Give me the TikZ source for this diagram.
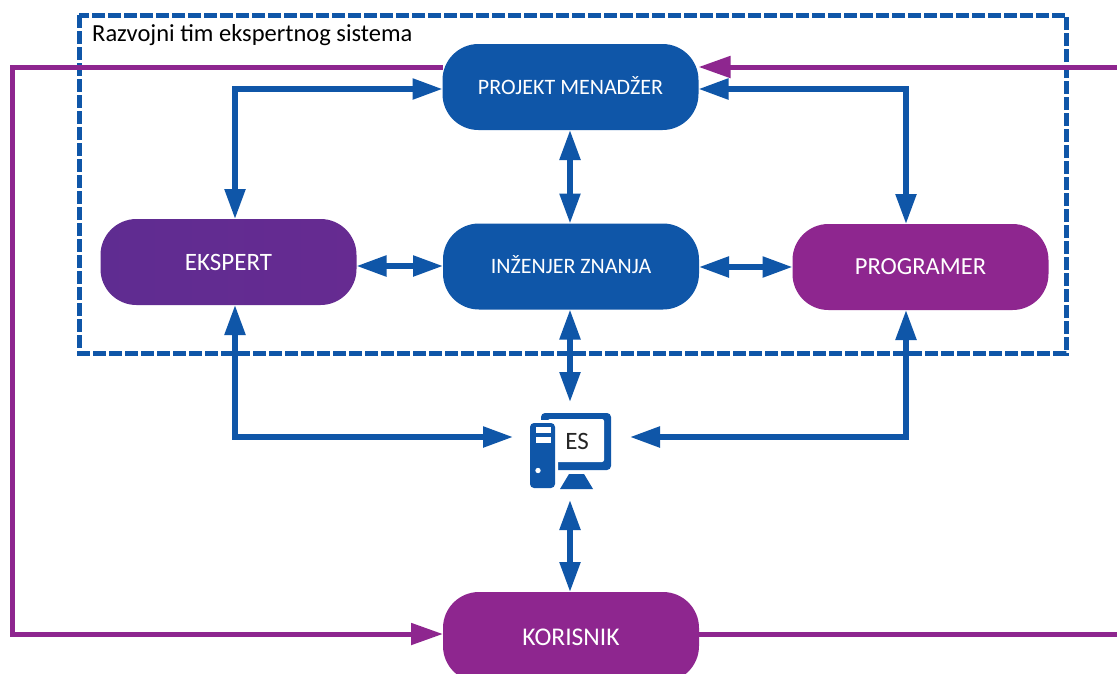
\documentclass[tikz,border=0pt]{standalone}
\usepackage{fontspec}
\setmainfont{Carlito}
\usetikzlibrary{arrows.meta,calc}
\definecolor{bl}{HTML}{0F56A8}
\definecolor{pu}{HTML}{8E268F}
\definecolor{vi}{HTML}{5F2C91}
\newcommand{\fsz}[1]{\fontsize{#1}{#1}\selectfont}
\tikzset{
 box/.style={rounded corners=36pt,minimum width=256pt,minimum height=86pt,inner sep=0pt,outer sep=0pt,text=white},
 bi/.style={draw=bl,line width=5.4pt,{Triangle[length=30pt,width=20pt]}-{Triangle[length=30pt,width=20pt]}},
 pa/.style={draw=pu,line width=5pt},
 pt/.style={pa,-{Triangle[length=32pt,width=21pt]}}
}
\begin{document}
\begin{tikzpicture}[x=1pt,y=-1pt]
\useasboundingbox (0,0) rectangle (1117,673);
\fill[white] (0,0) rectangle (1117,673);
% free ends and routing points
\coordinate (xl) at (235,0);
\coordinate (xr) at (906,0);
\coordinate (r1) at (1117,67);
\coordinate (r2) at (1117,634);
\coordinate (l1) at (12,67);
% dashed frame
\draw[bl,line width=5pt,dash pattern=on 13pt off 3pt] (79,15) rectangle (1066,353);
\node[anchor=west,inner sep=0pt,font=\fsz{24.5}] (ttl) at (92,35) {Razvojni tim ekspertnog sistema};
% boxes
\node[box,fill=bl,font=\fsz{22}] (pm) at (570.5,87) {\raisebox{4pt}{PROJEKT MENADŽER}};
\node[box,left color=vi,right color=vi!85!pu,font=\fsz{25}] (ek) at (228.5,262) {EKSPERT};
\node[box,fill=bl,font=\fsz{22}] (iz) at (571,266.5) {\raisebox{5pt}{INŽENJER ZNANJA}};
\node[box,fill=pu,font=\fsz{24.5}] (pr) at (920.5,267) {PROGRAMER};
\node[box,fill=pu,minimum height=90pt,font=\fsz{25.5}] (ko) at (571,637) {KORISNIK};
% ES icon
\node[inner sep=0pt,outer sep=0pt,minimum width=117pt,minimum height=98pt] (es) at (571.5,451) {};
\coordinate (ey) at (0,437);
\fill[bl,rounded corners=4pt] (541,413) rectangle (611,470);
\fill[white,rounded corners=2pt] (548,419) rectangle (604,462);
\fill[bl] (560,489) -- (569,474) -- (584,474) -- (593,489) -- cycle;
\fill[white,rounded corners=4pt] (527,420) rectangle (558,490);
\fill[bl,rounded corners=4pt] (530,423) rectangle (555,488);
\fill[white] (535.5,427) rectangle (551,433);
\fill[white] (535.5,437) rectangle (551,443);
\fill[white] (538,470.5) circle (2.7);
\node[inner sep=0pt,font=\fsz{25},text=black!85] (esl) at (577,441) {ES};
% blue connectors
\draw[bi] (pm.west |- 0,89) -| (xl |- ek.north);
\draw[bi] (pm.east |- 0,89) -| (xr |- pr.north);
\draw[bi] (pm.south -| 570,0) -- (iz.north -| 570,0);
\draw[bi] (ek.east |- 0,266) -- (iz.west |- 0,266);
\draw[bi] (iz.east |- 0,267) -- (pr.west |- 0,267);
\draw[bi] (iz.south -| 570,0) -- (es.north -| 570,0);
\draw[bi] (es.south -| 570,0) -- (ko.north -| 570,0);
\draw[bi] (xl |- ek.south) |- (es.west |- ey);
\draw[bi] (xr |- pr.south) |- (es.east |- ey);
% purple connectors
\draw[pt] (r1) -- (pm.east |- r1);
\draw[pt] (pm.west |- l1) -- (l1) -- (l1 |- r2) -- (ko.west |- r2);
\draw[pa] (ko.east |- r2) -- (r2);
\end{tikzpicture}
\end{document}
